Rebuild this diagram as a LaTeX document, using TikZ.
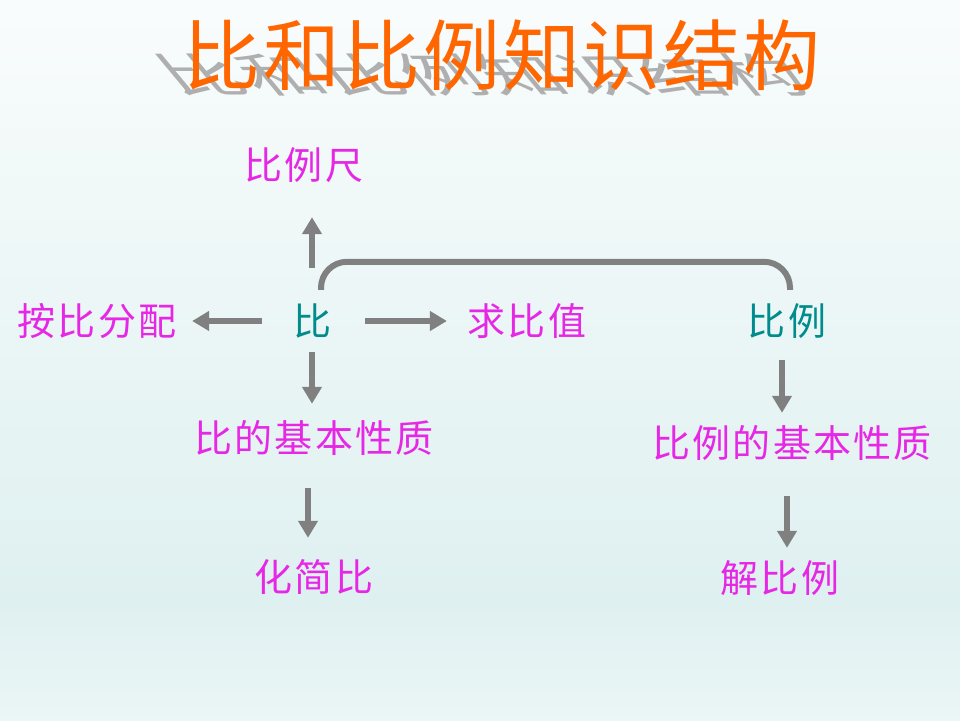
\documentclass[tikz,border=0pt]{standalone}
\usepackage{fontspec}
\newfontfamily\cjk[LetterSpace=6]{Noto Sans CJK SC}
\newfontfamily\cjkbt[LetterSpace=4]{Noto Sans CJK SC}
\usetikzlibrary{arrows.meta}
\definecolor{zise}{RGB}{230,40,230}
\definecolor{qingse}{RGB}{0,140,140}
\definecolor{chengse}{RGB}{255,102,0}
\definecolor{huise}{RGB}{128,128,128}
\definecolor{yingzi}{RGB}{175,175,175}
\definecolor{bjshang}{RGB}{249,252,252}
\definecolor{bjzhong}{RGB}{223,240,240}
\definecolor{bjxia}{RGB}{235,246,246}

\begin{document}
\begin{tikzpicture}[x=1pt, y=-1pt,
	wenzi/.style={inner sep=0pt, text height=33.5pt, text depth=4.5pt, font=\cjk\fontsize{38}{42}\selectfont},
	fen/.style={wenzi, text=zise},
	zhu/.style={wenzi, text=qingse},
	jiantou/.style={draw=huise, line width=6pt, -{Triangle[width=19pt,length=17pt]}},
	lian/.style={draw=huise, line width=6pt, rounded corners=26pt}]
		% 背景
		\useasboundingbox (0,0) rectangle (960,720);
		\shade[top color=bjshang, bottom color=bjzhong] (0,0) rectangle (960,600);
		\shade[top color=bjzhong, bottom color=bjxia] (0,600) rectangle (960,720);
		
		% 标题及其投影
		\begin{scope}[shift={(496,92)}, yscale=0.6, xslant=-0.5]
			\node[anchor=base, inner sep=0pt, transform shape, text=yingzi, font=\cjkbt\fontsize{77}{80}\selectfont] (ying) at (0,0) {比和比例知识结构};
		\end{scope}
		\node[anchor=base, inner sep=0pt, text=chengse, font=\cjkbt\fontsize{77}{80}\selectfont] (biaoti) at (502,84) {比和比例知识结构};
		
		% 定义各个知识点
		\node[fen] (blc) at (304,165) {比例尺};
		\node[fen] (apfp) at (97,321) {按比分配};
		\node[zhu] (bi) at (312,321) {比};
		\node[fen] (qbz) at (527,321) {求比值};
		\node[zhu] (bl) at (787,321) {比例};
		\node[fen] (bxz) at (314,438) {比的基本性质};
		\node[fen] (blxz) at (792,443) {比例的基本性质};
		\node[fen] (hjb) at (314,577) {化简比};
		\node[fen] (jbl) at (780,578) {解比例};
		
		% 比 的四个方向
		\draw[jiantou, shorten <=34pt, shorten >=33pt] (bi.north) -- (bi.north |- blc.south);
		\draw[jiantou, shorten <=31pt, shorten >=15.5pt] (bi.west) -- (bi.west -| apfp.east);
		\draw[jiantou, shorten <=34pt, shorten >=20.6pt] (bi.east) -- (bi.east -| qbz.west);
		\draw[jiantou, shorten <=12pt, shorten >=15pt] (bi.south) -- (bi.south |- bxz.north);
		\draw[jiantou, shorten <=31pt, shorten >=20pt] ([xshift=-6pt]bxz.south) -- ([xshift=-6pt]bxz.south |- hjb.north);
		
		% 比 与 比例 的连线
		\draw[lian] ([shift={(9,-12)}]bi.north) -- ++(0,-28) -| ([shift={(3,-12)}]bl.north);
		
		% 比例 一支
		\draw[jiantou, shorten <=20pt, shorten >=11pt] ([xshift=-5pt]bl.south) -- ([xshift=-5pt]bl.south |- blxz.north);
		\draw[jiantou, shorten <=34pt, shorten >=11pt] ([xshift=-5pt]blxz.south) -- ([xshift=-5pt]blxz.south |- jbl.north);
	\end{tikzpicture}
\end{document}
